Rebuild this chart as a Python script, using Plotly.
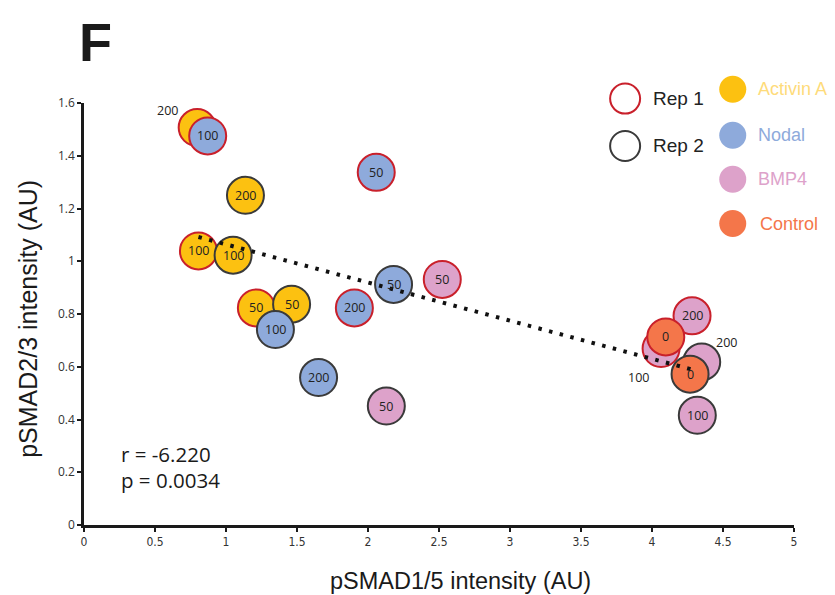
import plotly.graph_objects as go

# ---------------- data ----------------
treatment = ["Activin A", "Nodal", "Activin A", "Activin A", "Activin A", "Activin A", "Activin A",
             "Nodal", "Nodal", "Nodal", "Nodal", "Nodal", "BMP4", "BMP4", "BMP4", "BMP4",
             "Control", "BMP4", "Control", "BMP4"]
replicate = ["Rep 1", "Rep 1", "Rep 2", "Rep 1", "Rep 2", "Rep 1", "Rep 2",
             "Rep 2", "Rep 1", "Rep 1", "Rep 2", "Rep 2", "Rep 1", "Rep 2", "Rep 1", "Rep 1",
             "Rep 1", "Rep 2", "Rep 2", "Rep 2"]
dose = ["200", "100", "200", "100", "100", "50", "50",
        "100", "50", "200", "50", "200", "50", "50", "200", "100",
        "0", "200", "0", "100"]
psmad15 = [0.797, 0.871, 1.137, 0.806, 1.050, 1.214, 1.462,
           1.348, 2.058, 1.904, 2.180, 1.652, 2.523, 2.129, 4.282, 4.064,
           4.097, 4.350, 4.268, 4.319]
psmad23 = [1.507, 1.475, 1.250, 1.039, 1.023, 0.823, 0.837,
           0.741, 1.337, 0.823, 0.912, 0.559, 0.931, 0.451, 0.793, 0.669,
           0.713, 0.618, 0.572, 0.416]
trend_x = [0.806, 4.298]
trend_y = [1.092, 0.587]
x_ticks = [0, 0.5, 1, 1.5, 2, 2.5, 3, 3.5, 4, 4.5, 5]
y_ticks = [0, 0.2, 0.4, 0.6, 0.8, 1, 1.2, 1.4, 1.6]
r_text = "r = -6.220"
p_text = "p = 0.0034"

# ---------------- styles ----------------
fill = {"Activin A": "#FCC111", "Nodal": "#8EAADB", "BMP4": "#DDA2CA", "Control": "#F4764A"}
legend_text_col = {"Activin A": "#FEDB7A", "Nodal": "#8EAADB", "BMP4": "#DDA2CA", "Control": "#F4764A"}
outline = {"Rep 1": "#C9202B", "Rep 2": "#3A3A3A"}
# label offsets (pixels) for labels drawn outside their bubble
label_shift = {0: (-30, 17), 15: (-23, -29), 17: (25, 20)}

W, H = 835, 595
# plot area in page pixels
PL, PR, PT, PB = 83.5, 794.0, 102.7, 524.8
ML, MR, MT, MB = PL, W - PR, PT, H - PB
PW, PH = PR - PL, PB - PT


def px(x):
    return (x - PL) / PW


def py(y):
    return (PB - y) / PH


fig = go.Figure()

fig.add_trace(go.Scatter(
    x=psmad15, y=psmad23, mode="markers",
    marker=dict(size=37, color=[fill[t] for t in treatment],
                line=dict(color=[outline[r] for r in replicate], width=2), opacity=1),
    cliponaxis=False, showlegend=False, hoverinfo="skip"))

fig.add_trace(go.Scatter(
    x=trend_x, y=trend_y, mode="lines",
    line=dict(color="#111111", width=4, dash="3.5px,7.5px"),
    cliponaxis=False, showlegend=False, hoverinfo="skip"))

annotations = []
for i, (xv, yv, d) in enumerate(zip(psmad15, psmad23, dose)):
    sx, sy = label_shift.get(i, (0, 0))
    annotations.append(dict(x=xv, y=yv, xref="x", yref="y", text=d, showarrow=False,
                            xanchor="center", yanchor="middle", xshift=sx, yshift=sy,
                            font=dict(family="Open Sans", size=12.5, color="#222222")))


def note(xp, yp, text, size, color="#1a1a1a", family="Liberation Sans", xanchor="center", angle=0):
    annotations.append(dict(x=px(xp), y=py(yp), xref="paper", yref="paper", text=text,
                            showarrow=False, xanchor=xanchor, yanchor="middle", textangle=angle,
                            font=dict(family=family, size=size, color=color)))


note(95, 42, "<b>F</b>", 54)
note(119, 454, r_text, 20.5, family="Open Sans", xanchor="left")
note(119, 480, p_text, 20.5, family="Open Sans", xanchor="left")
note(460, 581, "pSMAD1/5 intensity (AU)", 23.5)
note(28, 319, "pSMAD2/3 intensity (AU)", 25, angle=-90)

shapes = []
for rep, cy in [("Rep 1", 98.3), ("Rep 2", 145.7)]:
    shapes.append(dict(type="circle", xref="paper", yref="paper", xsizemode="pixel", ysizemode="pixel",
                       xanchor=px(625), yanchor=py(cy), x0=-15, x1=15, y0=-15, y1=15,
                       line=dict(color=outline[rep], width=2), fillcolor="white"))
    note(651, cy, rep, 19, color="#222222", xanchor="left")
for t, cy, tx in [("Activin A", 89, 756), ("Nodal", 135, 756), ("BMP4", 179, 756), ("Control", 223.3, 758)]:
    shapes.append(dict(type="circle", xref="paper", yref="paper", xsizemode="pixel", ysizemode="pixel",
                       xanchor=px(732.7), yanchor=py(cy), x0=-13.5, x1=13.5, y0=-13.5, y1=13.5,
                       line=dict(width=0), fillcolor=fill[t]))
    note(tx, cy, t, 18, color=legend_text_col[t], xanchor="left")

axis_common = dict(showgrid=False, zeroline=False, showline=True, linecolor="#1a1a1a", linewidth=2.5,
                   ticks="outside", ticklen=4, tickwidth=1.5, tickcolor="#1a1a1a")

fig.update_layout(
    width=W, height=H, margin=dict(l=ML, r=MR, t=MT, b=MB, pad=0),
    paper_bgcolor="white", plot_bgcolor="white", showlegend=False,
    xaxis=dict(range=[0, 5], tickvals=x_ticks, ticktext=[f"{v:g}" for v in x_ticks],
               tickfont=dict(family="DejaVu Sans Condensed", size=12, color="#333333"), **axis_common),
    yaxis=dict(range=[0, 1.6], tickvals=y_ticks, ticktext=[f"{v:g}" for v in y_ticks],
               tickfont=dict(family="Open Sans", size=12, color="#333333"), **axis_common),
    annotations=annotations, shapes=shapes,
)

fig.write_html("out.html", config={"displayModeBar": False},
               post_script="document.body.style.margin='0';document.body.style.overflow='hidden';")
